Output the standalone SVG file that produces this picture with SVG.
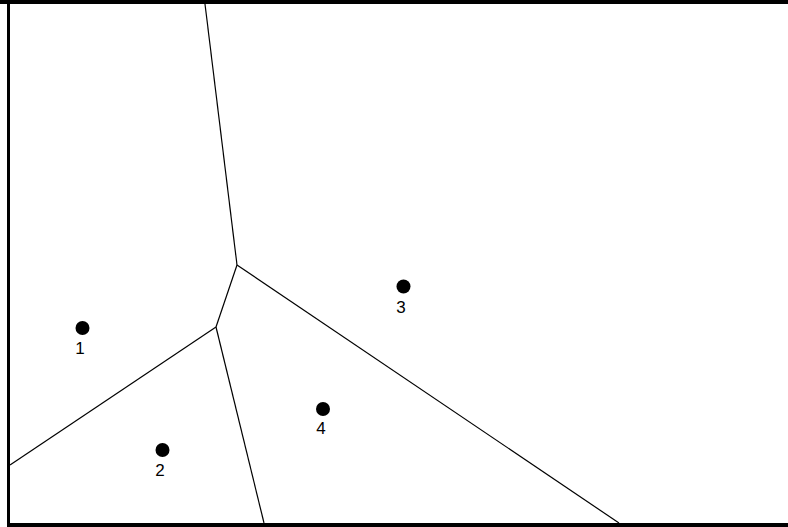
<svg xmlns="http://www.w3.org/2000/svg" width="788" height="527" viewBox="0 0 788 527">
<style>
.edge{stroke:#000;stroke-width:1.2;fill:none}
.site{fill:#000}
.lbl{font-family:"Liberation Sans",Arial,sans-serif;font-size:17px;fill:#000;text-anchor:middle}
</style>
<rect width="788" height="527" fill="#fff"/>
<g id="frame">
<rect x="0" y="0" width="788" height="4" fill="#000"/>
<rect x="7" y="0" width="3" height="527" fill="#000"/>
<rect x="7" y="523" width="781" height="4" fill="#000"/>
</g>
<g id="connectors">
<line class="edge" x1="205" y1="4" x2="237" y2="265"/>
<line class="edge" x1="237" y1="265" x2="216" y2="327"/>
<line class="edge" x1="237" y1="265" x2="619" y2="523"/>
<line class="edge" x1="216" y1="327" x2="10" y2="465"/>
<line class="edge" x1="216" y1="327" x2="264" y2="523"/>
</g>
<g id="site1"><circle class="site" cx="82.5" cy="328" r="7"/><text class="lbl" x="80" y="354">1</text></g>
<g id="site2"><circle class="site" cx="162.5" cy="450" r="7"/><text class="lbl" x="160" y="476">2</text></g>
<g id="site3"><circle class="site" cx="403.5" cy="286.5" r="7"/><text class="lbl" x="401" y="313">3</text></g>
<g id="site4"><circle class="site" cx="323" cy="409" r="7"/><text class="lbl" x="321" y="434">4</text></g>
</svg>
